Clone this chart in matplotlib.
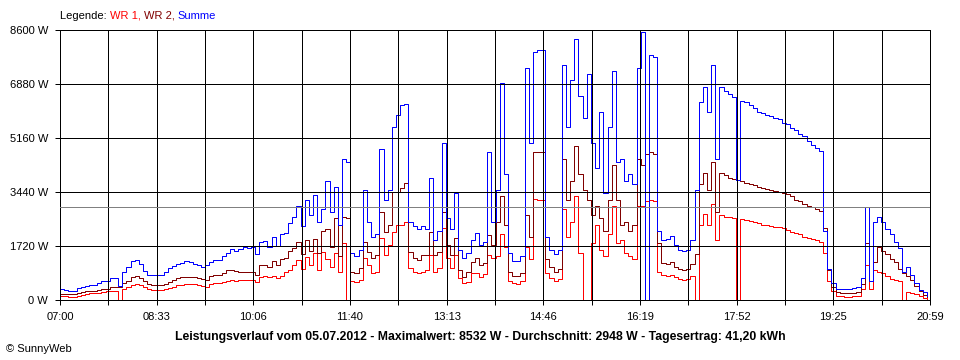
import matplotlib
matplotlib.use("Agg")
import matplotlib.pyplot as plt
import numpy as np

# ── Style ─────────────────────────────────────────────────────────────────────
plt.rcParams.update({
    "font.family": "Liberation Sans",
    "font.size":   8,
})

C_WR1 = "#ff0000"
C_WR2 = "#800000"
C_SUM = "#0000ff"
LW = 0.72      # one pixel at 100 dpi

# ── Data (W, one value every 4 minutes from 07:00) ────────────────────────────
STEP_MIN = 4
DAY_MINUTES = 839          # 07:00 .. 20:59
Y_MAX = 8600
Y_STEP = 1720
AVERAGE_W = 2948

x_labels = ["07:00", "08:33", "10:06", "11:40", "13:13",
            "14:46", "16:19", "17:52", "19:25", "20:59"]

wr1 = [
    120, 120, 100, 100, 130, 150, 200, 210, 220, 230,
    260, 280, 290, 290, 0, 360, 420, 490, 500, 480,
    430, 360, 320, 320, 320, 340, 370, 430, 470, 490,
    500, 500, 500, 470, 450, 430, 500, 530, 530, 560,
    620, 630, 620, 630, 640, 640, 640, 560, 740, 750,
    720, 750, 700, 780, 900, 950, 1100, 1270, 1000, 1380,
    1100, 1490, 950, 1540, 1300, 1050, 1500, 900, 1800, 0,
    600, 580, 640, 1330, 1115, 850, 900, 1960, 1430, 1750,
    2180, 2390, 2390, 2500, 1010, 900, 850, 900, 950, 1430,
    900, 1010, 2280, 1330, 1010, 1430, 690, 530, 580, 850,
    850, 740, 820, 1430, 1330, 1400, 2100, 1700, 620, 550,
    520, 620, 1700, 1300, 3220, 3200, 3180, 850, 700, 600,
    680, 2900, 2000, 2500, 3300, 1500, 0, 0, 1800, 2400,
    1600, 1400, 2100, 3000, 1800, 1900, 1500, 1400, 1300, 3000,
    3000, 3150, 3200, 3150, 900, 800, 780, 800, 720, 660,
    650, 680, 750, 0, 2400, 2750, 2400, 3050, 1900, 2700,
    2650, 2630, 2620, 0, 2580, 2550, 2520, 2480, 2440, 2400,
    2380, 2360, 2340, 2320, 2300, 2240, 2180, 2120, 2100, 2000,
    1980, 1950, 1900, 1850, 1500, 600, 300, 130, 120, 110,
    110, 120, 130, 350, 1100, 350, 950, 900, 850, 750,
    680, 640, 600, 0, 250, 230, 200, 120, 60, 30,
]

wr2 = [
    180, 180, 190, 200, 220, 250, 280, 290, 300, 320,
    340, 360, 420, 420, 430, 530, 620, 740, 750, 700,
    620, 520, 470, 470, 470, 500, 560, 640, 690, 720,
    740, 740, 720, 690, 660, 640, 780, 800, 800, 870,
    940, 950, 920, 890, 900, 900, 900, 810, 1100, 1120,
    1050, 1250, 1100, 1300, 1350, 1550, 1650, 1850, 1450, 1900,
    1550, 1950, 1500, 2200, 2250, 1700, 2600, 1400, 2650, 2600,
    900, 850, 1010, 1860, 1540, 1330, 1430, 2810, 2180, 2390,
    3450, 3450, 3560, 3720, 1540, 1330, 1270, 1430, 1430, 2180,
    1430, 1540, 2810, 1750, 1430, 1960, 960, 740, 900, 1220,
    1330, 1115, 1170, 2070, 1750, 2500, 3300, 2400, 900, 750,
    750, 850, 2700, 2000, 4700, 4700, 4720, 1300, 1050, 900,
    1000, 4500, 3200, 3800, 4900, 4000, 3500, 3200, 2700, 3000,
    2600, 2200, 3200, 4300, 3200, 2400, 2500, 2200, 2400, 4500,
    4300, 4650, 4700, 4650, 1800, 1170, 1150, 1200, 1050, 980,
    960, 990, 1150, 1450, 3700, 4050, 3500, 4400, 2800, 4050,
    3980, 3900, 3850, 3820, 3780, 3740, 3700, 3650, 3600, 3580,
    3540, 3500, 3480, 3450, 3400, 3370, 3300, 3200, 3150, 3050,
    3000, 2950, 2900, 2850, 2300, 950, 400, 250, 230, 220,
    220, 230, 240, 500, 1800, 600, 1200, 1700, 1550, 1450,
    1300, 1200, 1000, 850, 750, 650, 450, 300, 150, 80,
]

summe = [
    340, 330, 290, 300, 380, 410, 450, 480, 490, 540,
    590, 610, 690, 710, 440, 900, 1060, 1230, 1290, 1150,
    930, 810, 790, 790, 800, 900, 1030, 1090, 1150, 1190,
    1240, 1200, 1150, 1100, 1060, 1120, 1220, 1270, 1280, 1400,
    1500, 1640, 1560, 1640, 1680, 1660, 1700, 1450, 1850, 1870,
    1700, 2000, 1720, 2100, 2150, 2450, 2650, 3000, 2350, 3200,
    2700, 3350, 2500, 2900, 3800, 2800, 3600, 2400, 4500, 4400,
    1500, 1400, 1600, 3500, 2500, 2000, 2100, 4800, 3200, 3500,
    5500, 5900, 6200, 6250, 2500, 2350, 2250, 2350, 2250, 3900,
    1900, 2200, 5000, 2600, 2250, 3400, 1600, 1350, 1500, 1900,
    2150, 1750, 1850, 4700, 2500, 3500, 6900, 4000, 1500, 1250,
    1250, 1400, 7400, 5000, 7900, 7950, 7950, 2000, 1600, 1450,
    1600, 7500, 5500, 7000, 8300, 6500, 5800, 7200, 5000, 4200,
    6000, 3400, 5500, 7300, 4400, 4500, 3800, 4000, 3700, 7400,
    8532, 0, 7800, 7750, 2200, 1900, 1950, 2050, 1750, 1600,
    1550, 1600, 1900, 3500, 6300, 6800, 6000, 7500, 4500, 6800,
    6650, 6550, 6450, 3820, 6350, 6300, 6200, 6100, 6000, 5950,
    5900, 5850, 5800, 5750, 5650, 5600, 5480, 5400, 5300, 5220,
    5050, 4950, 4850, 4750, 2200, 1000, 550, 360, 350, 350,
    360, 380, 430, 700, 2950, 600, 2500, 2650, 2500, 2250,
    2100, 1850, 1650, 900, 1050, 800, 550, 320, 270, 130,
]

legend_parts = ["Legende: ", "WR 1, ", "WR 2, ", "Summe"]
legend_colors = ["black", C_WR1, C_WR2, C_SUM]

title = ("Leistungsverlauf vom 05.07.2012 - Maximalwert: 8532 W - "
         "Durchschnitt: 2948 W - Tagesertrag: 41,20 kWh")

# ── Figure ────────────────────────────────────────────────────────────────────
W_PX, H_PX = 960, 360
fig = plt.figure(figsize=(W_PX / 100, H_PX / 100), dpi=100)
ax = fig.add_axes([60 / W_PX, 60 / H_PX, 870 / W_PX, 270 / H_PX])

minutes = np.arange(len(summe)) * STEP_MIN
for series, color in [(wr1, C_WR1), (wr2, C_WR2), (summe, C_SUM)]:
    ax.plot(minutes, series, color=color, lw=LW, drawstyle="steps-post",
            snap=True, zorder=2)

# grid on top of the curves, like the original
v_lines = np.linspace(0, DAY_MINUTES, 2 * len(x_labels) - 1)
h_lines = np.arange(0, Y_MAX + 1, Y_STEP)
for v in v_lines:
    ax.axvline(v, color="black", lw=LW, snap=True, clip_on=False, zorder=3)
for h in h_lines:
    ax.axhline(h, color="black", lw=LW, snap=True, clip_on=False, zorder=3)
ax.axhline(AVERAGE_W, color="#808080", lw=LW, snap=True, zorder=3)

ax.set_xlim(0, DAY_MINUTES)
ax.set_ylim(0, Y_MAX)
ax.set_xticks(v_lines)
ax.set_xticklabels([x_labels[i // 2] if i % 2 == 0 else ""
                    for i in range(len(v_lines))])
ax.set_yticks(h_lines)
ax.set_yticklabels([f"{h} W" for h in h_lines])
ax.tick_params(length=3.6, width=LW, color="black", labelsize=8)
ax.tick_params(axis="x", pad=5)
ax.tick_params(axis="y", pad=5)
for s in ax.spines.values():
    s.set_visible(False)

# ── Texts ─────────────────────────────────────────────────────────────────────
fig.canvas.draw()
renderer = fig.canvas.get_renderer()
x = 60 / W_PX
for txt, col in zip(legend_parts, legend_colors):
    t = fig.text(x, 1 - 16 / H_PX, txt, color=col, fontsize=8,
                 ha="left", va="center")
    x = t.get_window_extent(renderer=renderer).x1 / W_PX

fig.text(0.5, 1 - 337 / H_PX, title, fontsize=8.8, fontweight="bold",
         ha="center", va="center")
fig.text(6 / W_PX, 1 - 349 / H_PX, "© SunnyWeb", fontsize=8,
         ha="left", va="center")

fig.savefig("out.png", dpi=100)
